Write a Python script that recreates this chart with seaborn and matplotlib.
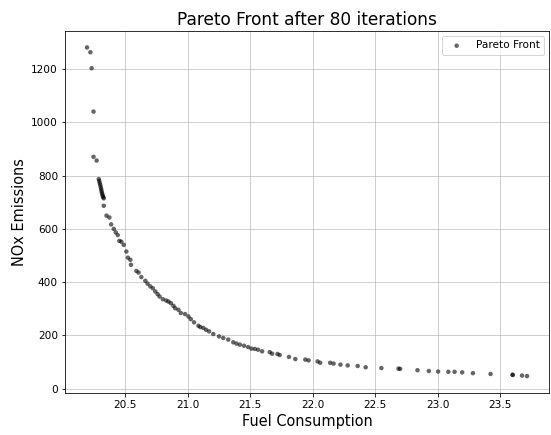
import matplotlib
matplotlib.use("Agg")
import matplotlib.pyplot as plt
import seaborn as sns
import pandas as pd

fuel = [20.193, 20.22, 20.23, 20.245, 20.245, 20.27,
        20.287, 20.291, 20.295, 20.299, 20.303, 20.306, 20.309, 20.312, 20.316, 20.319, 20.323, 20.327,
        20.327, 20.349, 20.372, 20.386, 20.407, 20.423, 20.439, 20.452, 20.468, 20.487, 20.508, 20.52,
        20.54, 20.545, 20.588, 20.606, 20.628, 20.66, 20.678, 20.70, 20.72, 20.74, 20.758, 20.774,
        20.80, 20.827, 20.845, 20.864, 20.885, 20.899, 20.925, 20.944, 20.978, 21.005, 21.024, 21.05,
        21.085, 21.10, 21.124, 21.146, 21.17, 21.204, 21.25, 21.284, 21.324, 21.364, 21.39, 21.417,
        21.45, 21.483, 21.51, 21.537, 21.563, 21.595, 21.656, 21.675, 21.718, 21.736, 21.81, 21.861,
        21.941, 21.967, 22.039, 22.06, 22.14, 22.167, 22.222, 22.28, 22.36, 22.424, 22.55, 22.687,
        22.70, 22.839, 22.93, 23.004, 23.086, 23.136, 23.197, 23.283, 23.424, 23.60, 23.602, 23.676,
        23.716]
nox = [1282, 1264, 1204, 1041, 871, 857,
       787, 780, 772, 765, 757, 750, 743, 736, 730, 724, 719, 715,
       687, 650, 643, 617, 600, 587, 577, 555, 552, 540, 515, 492,
       484, 465, 442, 436, 419, 405, 394, 384, 377, 365, 355, 346,
       336, 331, 327, 321, 311, 302, 296, 284, 280, 271, 261, 249,
       236, 231, 228, 221, 215, 205, 196, 190, 184, 174, 169, 165,
       161, 156, 150, 149, 146, 140, 137, 131, 130, 126, 119, 111,
       109, 106, 102, 97, 97, 94, 90, 87, 85, 80, 77, 75,
       74, 69, 66, 64, 63, 63, 61, 58, 55, 52, 51, 49,
       47]

df = pd.DataFrame({"Fuel Consumption": fuel, "NOx Emissions": nox})

fig, ax = plt.subplots(figsize=(551 / 72, 435 / 72), dpi=72)
fig.subplots_adjust(left=0.118, right=0.9964, top=0.9287, bottom=0.0977)
sns.scatterplot(data=df, x="Fuel Consumption", y="NOx Emissions", ax=ax,
                color="black", alpha=0.6, s=20, edgecolor="none", label="Pareto Front")
ax.set_title("Pareto Front after 80 iterations", fontsize=17)
ax.set_xlabel("Fuel Consumption", fontsize=14.5)
ax.set_ylabel("NOx Emissions", fontsize=14.5)
ax.tick_params(labelsize=10.5)
ax.grid(True, alpha=0.75)
ax.set_axisbelow(True)
ax.legend(loc="upper right", fontsize=10.5)
fig.savefig("out.png", dpi=72)
